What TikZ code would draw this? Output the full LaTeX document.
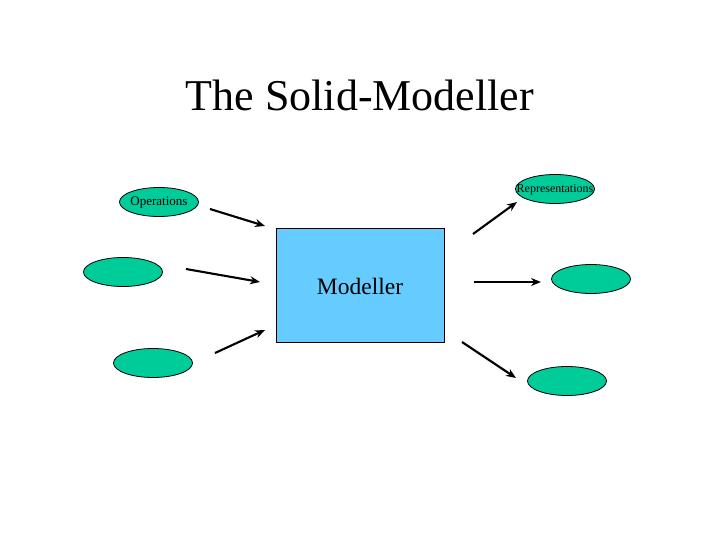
\documentclass[tikz,border=0pt]{standalone}
\usepackage{fontspec}
\setmainfont{Liberation Serif}
\usetikzlibrary{arrows.meta,shapes.geometric}
\definecolor{ellgreen}{RGB}{0,204,153}
\definecolor{boxblue}{RGB}{102,204,255}
\tikzset{
  ell/.style={ellipse, draw=black, line width=0.8pt, fill=ellgreen, minimum width=79pt, minimum height=29pt, inner sep=0pt},
  modbox/.style={rectangle, draw=black, line width=0.8pt, fill=boxblue, minimum width=168pt, minimum height=114pt, inner sep=0pt},
  conn/.style={line width=2.1pt, -{Stealth[length=10pt,width=8pt]}},
}
\begin{document}
\begin{tikzpicture}[x=1pt,y=-1pt]
\useasboundingbox (0,0) rectangle (720,540);
\node[anchor=base, inner sep=0pt] (title) at (360,111) {\fontsize{44}{50}\selectfont The Solid-Modeller};
\node[modbox] (mod) at (360,285) {};
\node[anchor=base, inner sep=0pt] (modtext) at (360,294) {\fontsize{23.5}{28}\selectfont Modeller};
\node[ell] (ops) at (159,202) {};
\node[anchor=base, inner sep=0pt] (opstext) at (159,206) {\fontsize{13}{15}\selectfont Operations};
\node[ell] (e2) at (123,272) {};
\node[ell] (e3) at (153,363) {};
\node[ell] (rep) at (555,189) {};
\node[anchor=base, inner sep=0pt] (reptext) at (555,193) {\fontsize{12}{14}\selectfont Representations};
\node[ell] (e5) at (591,279) {};
\node[ell] (e6) at (567,381) {};
\coordinate (a1s) at (210,209);
\coordinate (a1e) at (265,226);
\coordinate (a2s) at (186,269);
\coordinate (a2e) at (260,282);
\coordinate (a3s) at (215,353);
\coordinate (a3e) at (265,330);
\coordinate (a4s) at (473,234);
\coordinate (a4e) at (517,202);
\coordinate (a5s) at (474,282);
\coordinate (a5e) at (541,282);
\coordinate (a6s) at (462,342);
\coordinate (a6e) at (516,378);
\draw[conn] (a1s) -- (a1e);
\draw[conn] (a2s) -- (a2e);
\draw[conn] (a3s) -- (a3e);
\draw[conn] (a4s) -- (a4e);
\draw[conn] (a5s) -- (a5e);
\draw[conn] (a6s) -- (a6e);
\end{tikzpicture}
\end{document}
